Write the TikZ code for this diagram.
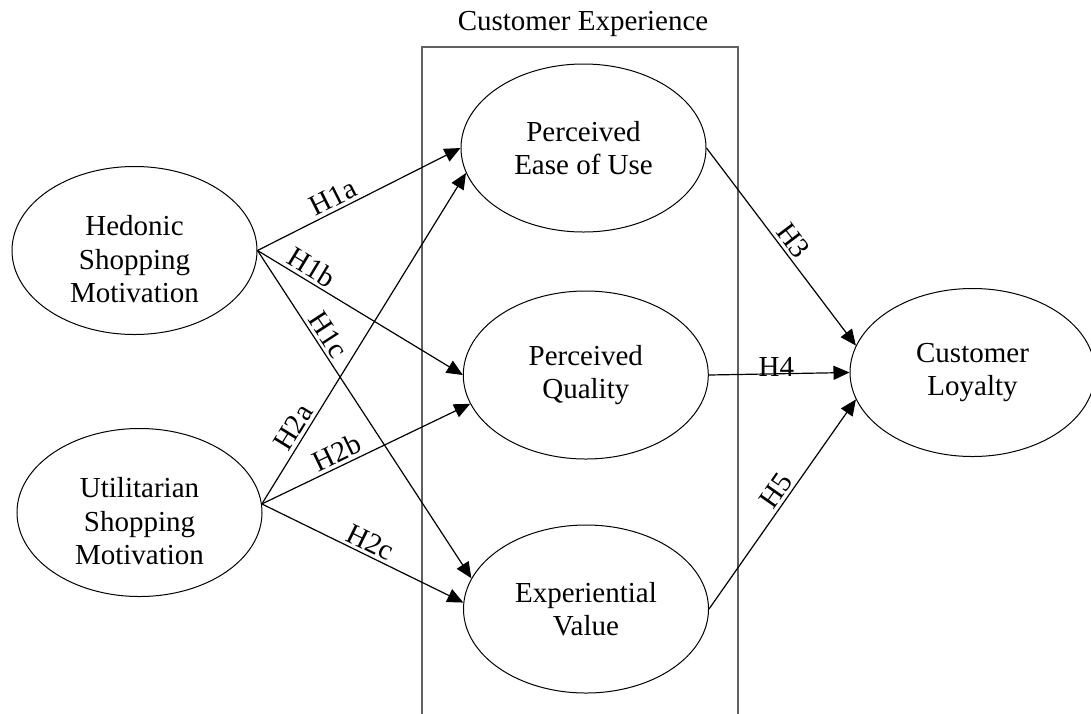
\documentclass[tikz,border=0pt]{standalone}
\usepackage{fontspec}
\setmainfont{Liberation Serif}
\usepackage{tikz}
\usetikzlibrary{shapes.geometric}
\usetikzlibrary{arrows.meta}

\tikzset{
	construct/.style={draw, ellipse, line width=0.5pt, minimum width=122.5pt, minimum height=84pt, inner sep=0pt, align=center},
	lowtext/.style={label={[align=center, yshift=-4.5pt]center:{#1}}},
	hyp/.style={draw, line width=0.6pt, -{Triangle[length=8pt,width=7pt]}},
	hlabel/.style={sloped, above, inner sep=1.5pt},
	expbox/.style={draw=black!62, line width=0.8pt, minimum width=158pt, minimum height=347pt, inner sep=0pt, anchor=north},
}

\begin{document}
\begin{tikzpicture}[x=0.5pt, y=-0.5pt, font=\fontsize{14.5pt}{16.75pt}\selectfont]
			\useasboundingbox (0,0) rectangle (1091,713);
			% the experience block, open at the bottom edge
			\node[expbox] (box) at (579.7,46) {};
			\node[anchor=base] (title) at (583,30) {Customer Experience};
			\node[construct, lowtext={Hedonic\\Shopping\\Motivation}] (hed) at (134.5,250.5) {};
			\node[construct, lowtext={Utilitarian\\Shopping\\Motivation}] (util) at (139.5,512.5) {};
			\node[construct] (peou) at (583.5,148) {Perceived\\Ease of Use};
			\node[construct] (pq) at (585.8,375) {Perceived\\Quality};
			\node[construct] (ev) at (586,609) {Experiential\\Value};
			\node[construct] (loyal) at (972.5,372.5) {Customer\\Loyalty};
			% hypotheses
			\draw[hyp] (hed.east) -- node[hlabel, pos=0.40] {H1a} (peou.west);
			\draw[hyp] (hed.east) -- node[hlabel, pos=0.23] {H1b} (pq.west);
			\draw[hyp] (hed.east) -- node[hlabel, pos=0.28] {H1c} (ev.165);
			\draw[hyp] (util.4) -- node[hlabel, pos=0.21] {H2a} (peou.192);
			\draw[hyp] (util.4) -- node[hlabel, pos=0.39] {H2b} (pq.194);
			\draw[hyp] (util.4) -- node[hlabel, pos=0.51] {H2c} (ev.177);
			\draw[hyp] (peou.east) -- node[hlabel, pos=0.51] {H3} (loyal.167);
			\draw[hyp] (pq.east) -- node[pos=0.48, yshift=3.3pt] {H4} (loyal.west);
			\draw[hyp] (ev.east) -- node[hlabel, pos=0.53] {H5} (loyal.193);
		\end{tikzpicture}
\end{document}
